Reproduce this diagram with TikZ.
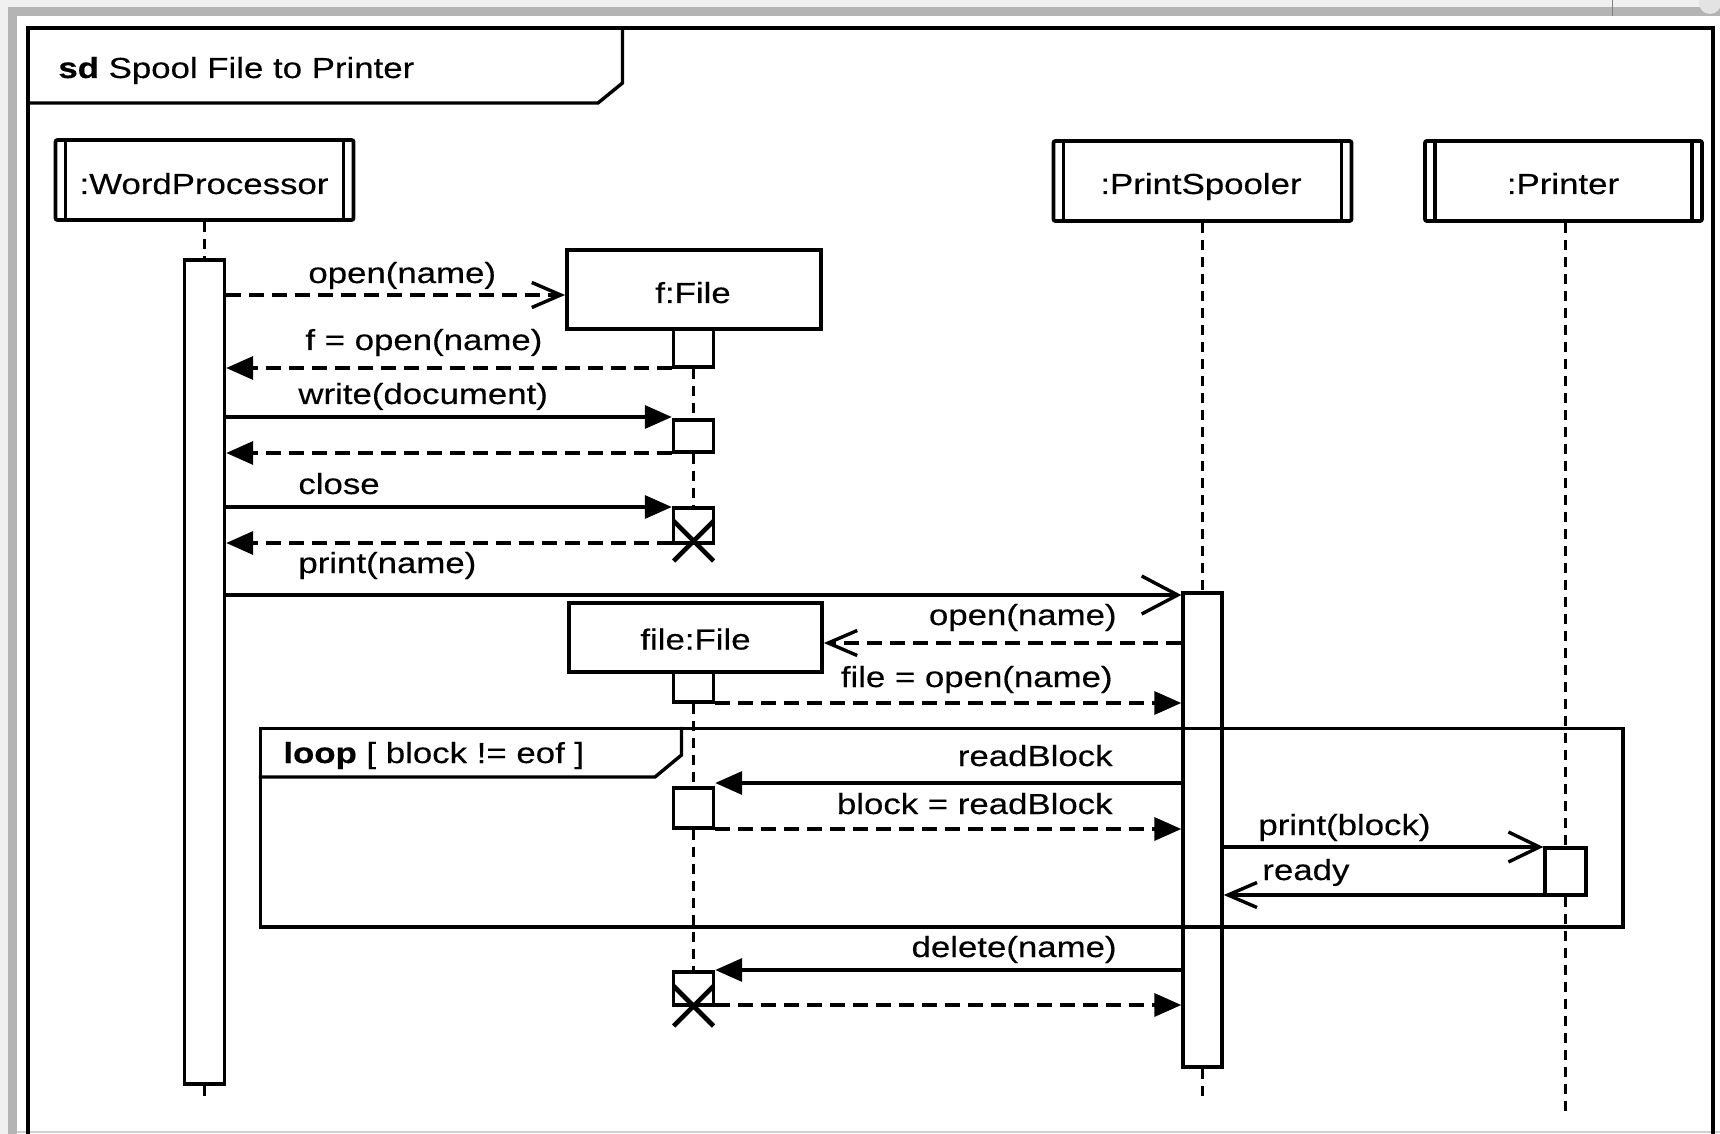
\documentclass[tikz,border=0pt]{standalone}
\usepackage{fontspec}
\setmainfont{Liberation Sans}[FakeStretch=1.2,FakeBold=0.35,BoldFeatures={FakeBold=0.5}]
\usetikzlibrary{arrows.meta}
\definecolor{bandlight}{HTML}{F0F0F0}
\definecolor{bandmid}{HTML}{B4B4B4}
\definecolor{bottomline}{HTML}{D0D0D0}
\newcommand{\lblfont}{\fontsize{14.5pt}{17pt}\selectfont}
\begin{document}
\begin{tikzpicture}[x=0.5pt,y=-0.5pt,
  framel/.style={line width=1.7pt},
  lifel/.style={line width=1.8pt, dash pattern=on 5pt off 3.5pt},
  msgline/.style={line width=1.7pt},
  retline/.style={line width=1.7pt, dash pattern=on 7.5pt off 4pt},
  filltip/.style={-{Triangle[length=13.5pt,width=11.5pt]}},
  opentip/.style={-{Straight Barb[length=14.5pt,width=12.5pt,line width=1.7pt]}},
  opentipmid/.style={-{Straight Barb[length=15.5pt,width=15pt,line width=1.7pt]}},
  opentipbig/.style={-{Straight Barb[length=18pt,width=19pt,line width=1.7pt]}},
  hdbox/.style={draw, line width=1.9pt, inner sep=0pt, minimum height=40pt, rounded corners=1pt},
  objbox/.style={draw, fill=white, line width=1.9pt, inner sep=0pt},
  actbar/.style={draw, fill=white, line width=1.7pt, inner sep=0pt, minimum width=20pt},
  lbl/.style={inner sep=0pt, font=\lblfont},
  xline/.style={line width=2.3pt},
]
\useasboundingbox (0,0) rectangle (1720,1134);
% window border
\fill[bandlight] (0,0) rectangle (1720,7.5);
\fill[bandmid] (0,7.5) rectangle (1720,16.5);
\fill[bandlight] (0,0) rectangle (8.3,1134);
\fill[bandmid] (8.3,7.5) rectangle (16.7,1134);
\draw[gray, line width=0.5pt] (1612,0) -- (1612,16.5);
\fill[gray!22] (1710,3) circle (11);
\draw[bottomline, line width=1pt] (17,1132) -- (1720,1132);

% frame
\draw[framel] (28,1140) -- (28,28) -- (1713,28) -- (1713,1140);
\draw[framel] (28,103) -- (598,103) -- (622.5,83) -- (622.5,28);
\node[lbl, anchor=base west] (title) at (58,78) {\textbf{sd} Spool File to Printer};

% lifeline heads
\node[hdbox, minimum width=149pt] (wp) at (204.5,180) {};
\node[hdbox, minimum width=149pt] (ps) at (1202.5,181) {};
\node[hdbox, minimum width=138.5pt] (pr) at (1563.5,181) {};
\foreach \n in {wp,ps,pr}{
  \draw[line width=1.7pt] ([xshift=6pt]\n.north west) -- ([xshift=6pt]\n.south west);
  \draw[line width=1.7pt] ([xshift=-6pt]\n.north east) -- ([xshift=-6pt]\n.south east);
}
\node[lbl, anchor=base] (wpt) at (204,194) {:WordProcessor};
\node[lbl, anchor=base] (pst) at (1201,194) {:PrintSpooler};
\node[lbl, anchor=base] (prt) at (1563,194) {:Printer};

% created objects
\node[objbox, minimum width=127pt, minimum height=39.5pt] (f) at (694,289.5) {};
\node[lbl, anchor=base] (ft) at (693,303) {f:File};
\node[objbox, minimum width=126.5pt, minimum height=34.5pt] (file) at (695.5,637.5) {};
\node[lbl, anchor=base] (filet) at (695.5,649.5) {file:File};

% activations
\node[actbar, minimum height=412pt] (wpact) at (204.5,672) {};
\node[actbar, minimum height=19pt] (fa1) at (693.5,348) {};
\node[actbar, minimum height=16pt] (fa2) at (693.5,436) {};
\node[actbar, minimum height=17.5pt] (fa3) at (693.5,525.5) {};
\node[actbar, minimum height=15pt] (la1) at (693.5,687) {};
\node[actbar, minimum height=20pt] (la2) at (693.5,808) {};
\node[actbar, minimum height=16.5pt] (la3) at (693.5,988.5) {};
\node[actbar, minimum width=19.5pt, minimum height=237pt] (psact) at (1202.5,830) {};
\node[actbar, minimum width=20.5pt, minimum height=23.5pt] (pract) at (1565.5,871.5) {};

% lifelines
\coordinate (wpend) at (204.5,1098);
\coordinate (psend) at (1202.5,1098);
\coordinate (prend) at (1565.5,1113);
\draw[lifel] (wpact.north |- wp.south) -- (wpact.north);
\draw[lifel] (wpact.south) -- (wpend);
\draw[lifel] (fa1.south) -- (fa2.north);
\draw[lifel] (fa2.south) -- (fa3.north);
\draw[lifel] (la1.south) -- (la2.north);
\draw[lifel] (la2.south) -- (la3.north);
\draw[lifel] (psact.north |- ps.south) -- (psact.north);
\draw[lifel] (psact.south) -- (psend);
\draw[lifel] (pract.north |- pr.south) -- (pract.north);
\draw[lifel] (pract.south) -- (prend);

% loop fragment
\node[draw, line width=1.7pt, inner sep=0pt, minimum width=681.25pt, minimum height=99.25pt] (loop) at (941.75,827.75) {};
\draw[framel] (loop.north west |- 0,777) -- (655,777) -- (681.5,755) -- (681.5,0 |- loop.north);
\node[lbl, anchor=base west] (loopt) at (283,763) {\textbf{loop} [ block != eof ]};

% messages
\draw[retline, opentip] (wpact.east |- 0,295) -- (f.west |- 0,295);
\draw[retline, filltip] (fa1.west |- 0,368) -- (wpact.east |- 0,368);
\draw[msgline, filltip] (wpact.east |- 0,417) -- (fa2.west |- 0,417);
\draw[retline, filltip] (fa2.west |- 0,453) -- (wpact.east |- 0,453);
\draw[msgline, filltip] (wpact.east |- 0,507) -- (fa3.west |- 0,507);
\draw[retline, filltip] (fa3.west |- 0,543) -- (wpact.east |- 0,543);
\draw[msgline, opentipbig] (wpact.east |- 0,595) -- (psact.west |- 0,595);
\draw[retline, opentip] (psact.west |- 0,643) -- (file.east |- 0,643);
\draw[retline, filltip] (la1.east |- 0,703) -- (psact.west |- 0,703);
\draw[msgline, filltip] (psact.west |- 0,783) -- (la2.east |- 0,783);
\draw[retline, filltip] (la2.east |- 0,829) -- (psact.west |- 0,829);
\draw[msgline, opentipmid] (psact.east |- 0,847) -- (pract.west |- 0,847);
\draw[msgline, opentip] (pract.west |- 0,895) -- (psact.east |- 0,895);
\draw[msgline, filltip] (psact.west |- 0,970) -- (la3.east |- 0,970);
\draw[retline, filltip] (la3.east |- 0,1005) -- (psact.west |- 0,1005);

% destruction marks
\draw[xline] (673.5,521) -- (713.5,561) (713.5,521) -- (673.5,561);
\draw[xline] (673.5,986) -- (713.5,1026) (713.5,986) -- (673.5,1026);

% labels
\node[lbl, anchor=base west] (l1) at (308,283) {open(name)};
\node[lbl, anchor=base west] (l2) at (305,350) {f = open(name)};
\node[lbl, anchor=base west] (l3) at (298,404) {write(document)};
\node[lbl, anchor=base west] (l4) at (298,494) {close};
\node[lbl, anchor=base west] (l5) at (298,573) {print(name)};
\node[lbl, anchor=base east] (l6) at (1117,625) {open(name)};
\node[lbl, anchor=base east] (l7) at (1113,687) {file = open(name)};
\node[lbl, anchor=base east] (l8) at (1113,766) {readBlock};
\node[lbl, anchor=base east] (l9) at (1113,814) {block = readBlock};
\node[lbl, anchor=base west] (l10) at (1258,835) {print(block)};
\node[lbl, anchor=base west] (l11) at (1262,880) {ready};
\node[lbl, anchor=base east] (l12) at (1117,957) {delete(name)};
\end{tikzpicture}
\end{document}
